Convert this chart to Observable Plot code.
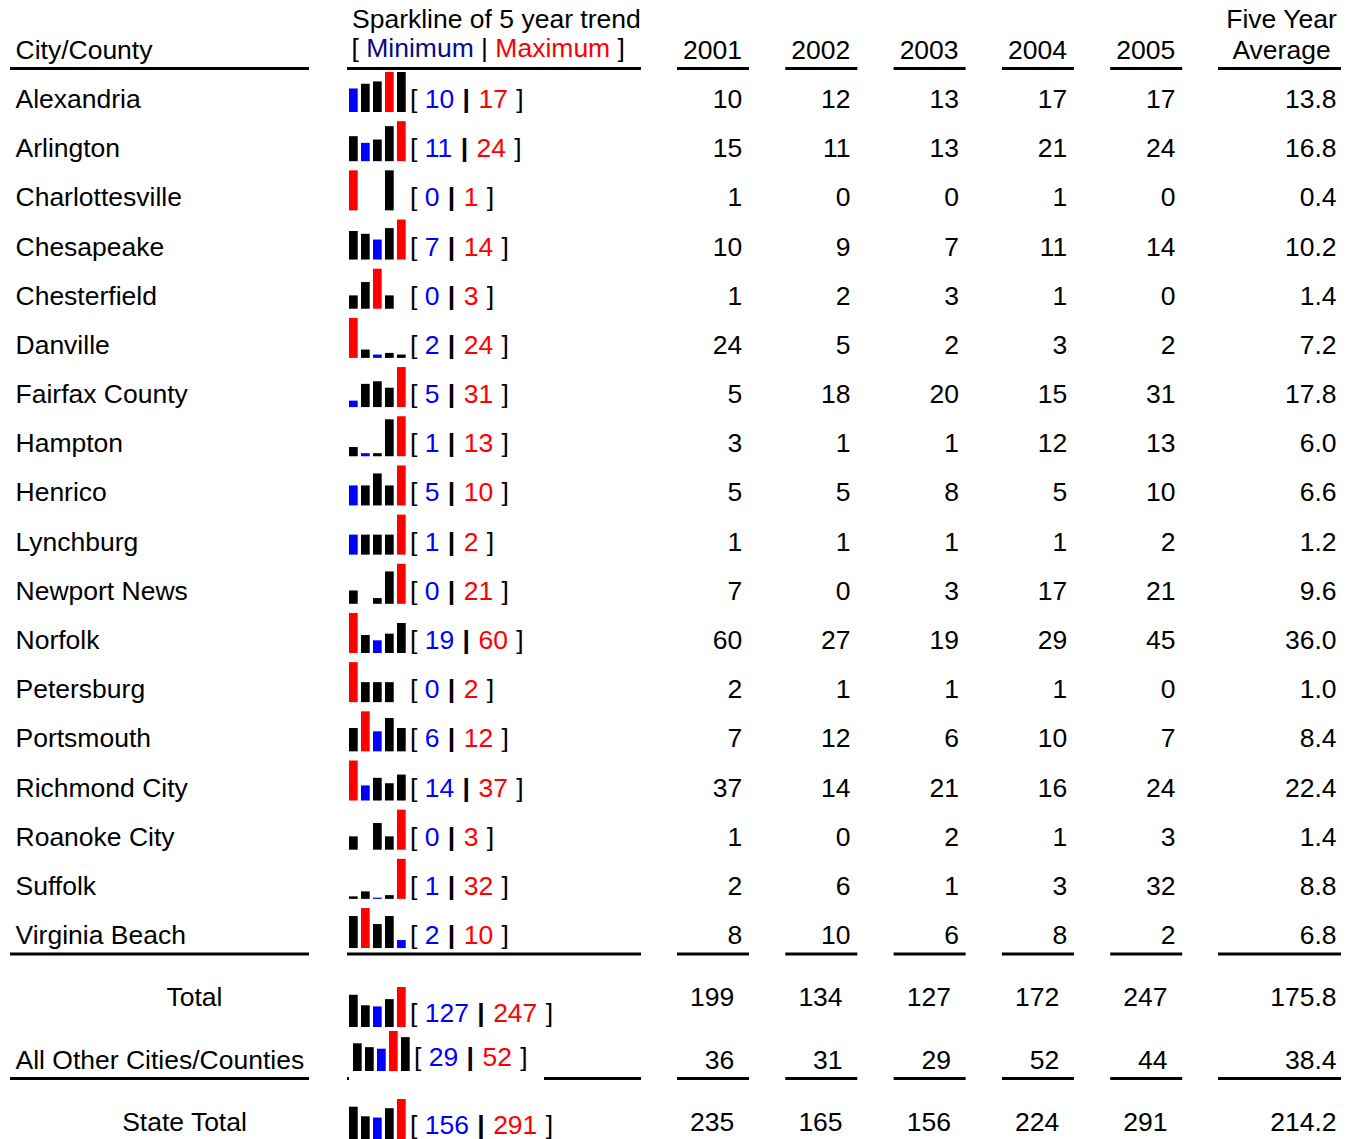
<!DOCTYPE html>
<html><head><meta charset="utf-8">
<script src="https://cdn.jsdelivr.net/npm/d3@7"></script>
<script src="https://cdn.jsdelivr.net/npm/@observablehq/plot@0.6"></script>
<style>body{margin:0;background:#fff} svg{display:block} text{white-space:pre}</style>
</head><body><div id="chart"></div>
<script>
// ---------- DATA ----------
const names = ["Alexandria","Arlington","Charlottesville","Chesapeake","Chesterfield","Danville","Fairfax County","Hampton","Henrico","Lynchburg","Newport News","Norfolk","Petersburg","Portsmouth","Richmond City","Roanoke City","Suffolk","Virginia Beach"];
const years = ["2001","2002","2003","2004","2005"];
const v2001 = [10,15,1,10,1,24,5,3,5,1,7,60,2,7,37,1,2,8];
const v2002 = [12,11,0,9,2,5,18,1,5,1,0,27,1,12,14,0,6,10];
const v2003 = [13,13,0,7,3,2,20,1,8,1,3,19,1,6,21,2,1,6];
const v2004 = [17,21,1,11,1,3,15,12,5,1,17,29,1,10,16,1,3,8];
const v2005 = [17,24,0,14,0,2,31,13,10,2,21,45,0,7,24,3,32,2];
const fiveYearAvg = [13.8,16.8,0.4,10.2,1.4,7.2,17.8,6.0,6.6,1.2,9.6,36.0,1.0,8.4,22.4,1.4,8.8,6.8];
const totalNames = ["Total","All Other Cities/Counties","State Total"];
const totalValues = [[199,134,127,172,247],[36,31,29,52,44],[235,165,156,224,291]];
const totalAvg = [175.8,38.4,214.2];
const headerTexts = {name:"City/County", spark1:"Sparkline of 5 year trend", spark2:"[ Minimum | Maximum ]", avg1:"Five Year", avg2:"Average"};

// ---------- LAYOUT ----------
const W = 1354, H = 1139, FS = 26.5;
const FONT = "Liberation Sans, Arial, Helvetica, sans-serif";
const ROW0 = 99, STEP = 49.18;
const COL_STEP = 108.3;
const valRight = i => 741.8 + COL_STEP * i;
const yearCenter = i => 712 + COL_STEP * i;
const ulYear = i => [677 + COL_STEP * i, 749 + COL_STEP * i];
const AVG_RIGHT = 1336;
const BAR_X0 = 349, BAR_STEP = 12, BAR_W = 8.7, BAR_H = 40;
const SPARK_TEXT_X = 409.5;

const cityRows = names.map((n, i) => ({
  name: n,
  values: [v2001[i], v2002[i], v2003[i], v2004[i], v2005[i]],
  avg: fiveYearAvg[i],
  yc: ROW0 + i * STEP, sparkYc: ROW0 + i * STEP, barBase: ROW0 + i * STEP + 13,
  valShift: 0, barShift: 0, nameX: 15, anchor: "start"
}));
const totLayout = [
  {yc: 997, sparkYc: 1013, barBase: 1027, barShift: 0, nameX: 194, anchor: "middle"},
  {yc: 1060, sparkYc: 1057, barBase: 1071, barShift: 4, nameX: 15, anchor: "start"},
  {yc: 1122, sparkYc: 1125, barBase: 1139, barShift: 0, nameX: 184, anchor: "middle"}
];
const totRows = totalNames.map((n, k) => ({
  name: n, values: totalValues[k], avg: totalAvg[k], valShift: -8, ...totLayout[k]
}));
const allRows = [...cityRows, ...totRows];

// cells
const cells = allRows.flatMap(r => r.values.map((v, i) => ({v, x: valRight(i) + r.valShift, y: r.yc})));
// bars
const bars = allRows.flatMap(r => {
  const mx = d3.max(r.values), mn = d3.min(r.values);
  const imx = r.values.indexOf(mx), imn = r.values.indexOf(mn);
  return r.values.map((v, j) => ({
    x1: BAR_X0 + j * BAR_STEP + r.barShift,
    x2: BAR_X0 + j * BAR_STEP + r.barShift + BAR_W,
    y1: r.barBase, y2: r.barBase - (mx > 0 ? v / mx * BAR_H : 0),
    fill: j === imx ? "red" : j === imn ? "blue" : "black"
  }));
});
const sparkLabels = allRows.map(r => ({
  text: `[ ${d3.min(r.values)} | ${d3.max(r.values)} ]`,
  x: SPARK_TEXT_X + r.barShift, y: r.sparkYc
}));

// underline segments
const segsFor = (y, sparkSegs) => [
  {y, x1: 10, x2: 309}, ...sparkSegs.map(s => ({y, x1: s[0], x2: s[1]})),
  ...years.map((_, i) => ({y, x1: ulYear(i)[0], x2: ulYear(i)[1]})),
  {y, x1: 1218, x2: 1341}
];
const rules = [
  ...segsFor(68, [[347, 641]]),
  ...segsFor(953.5, [[347, 641]]),
  ...segsFor(1078, [[347, 349], [544, 641]])
];

const textOpts = {fontSize: FS, fill: "black"};

const svg = Plot.plot({
  width: W, height: H, margin: 0,
  x: {type: "linear", domain: [0, W], range: [0, W], axis: null},
  y: {type: "linear", domain: [0, H], range: [0, H], axis: null},
  style: {fontFamily: FONT, background: "white", overflow: "visible"},
  marks: [
    // header
    Plot.text([headerTexts.name], {x: () => 15, y: () => 50, text: d => d, textAnchor: "start", ...textOpts}),
    Plot.text([headerTexts.spark1], {x: () => 351.5, y: () => 19, text: d => d, textAnchor: "start", ...textOpts}),
    Plot.text([headerTexts.spark2], {x: () => 351, y: () => 48, text: d => d, textAnchor: "start", ...textOpts}),
    Plot.text(years, {x: (d, i) => yearCenter(i), y: () => 50, text: d => d, textAnchor: "middle", ...textOpts}),
    Plot.text([headerTexts.avg1], {x: () => 1281, y: () => 19, text: d => d, textAnchor: "middle", ...textOpts}),
    Plot.text([headerTexts.avg2], {x: () => 1281, y: () => 50, text: d => d, textAnchor: "middle", ...textOpts}),
    // rules
    Plot.ruleY(rules, {y: "y", x1: "x1", x2: "x2", stroke: "black", strokeWidth: 3}),
    // names
    Plot.text(allRows.filter(r => r.anchor === "start"), {x: "nameX", y: "yc", text: "name", textAnchor: "start", ...textOpts}),
    Plot.text(allRows.filter(r => r.anchor === "middle"), {x: "nameX", y: "yc", text: "name", textAnchor: "middle", ...textOpts}),
    // values
    Plot.text(cells, {x: "x", y: "y", text: d => String(d.v), textAnchor: "end", ...textOpts}),
    Plot.text(allRows, {x: () => AVG_RIGHT, y: "yc", text: d => d.avg.toFixed(1), textAnchor: "end", ...textOpts}),
    // sparkline bars
    Plot.rect(bars.filter(b => b.fill === "black"), {x1: "x1", x2: "x2", y1: "y1", y2: "y2", fill: "black"}),
    Plot.rect(bars.filter(b => b.fill === "blue"), {x1: "x1", x2: "x2", y1: "y1", y2: "y2", fill: "#0000ff"}),
    Plot.rect(bars.filter(b => b.fill === "red"), {x1: "x1", x2: "x2", y1: "y1", y2: "y2", fill: "#ff0000"}),
    // spark labels
    Plot.text(sparkLabels, {x: "x", y: "y", text: "text", textAnchor: "start", ...textOpts})
  ]
});
document.getElementById("chart").appendChild(svg);

// colour the bracket labels
d3.select(svg).selectAll("text").each(function () {
  const t = this.textContent;
  const m = t.match(/^\[ (\S+) \| (\S+) \]$/);
  if (!m) return;
  const header = m[1] === "Minimum";
  const sel = d3.select(this);
  sel.text(null);
  const parts = [
    ["[ ", "black", 0, null], [m[1], header ? "#0a0a8c" : "#0000ff", 0, null], [" ", "black", 0, null],
    ["|", "black", header ? 0 : 1, header ? null : "bold"], [" ", "black", 0, null],
    [m[2], "#ff0000", header ? 0 : 1, null], [" ]", "black", header ? 0 : 1, null]
  ];
  for (const [s, c, dx, fw] of parts) {
    const ts = sel.append("tspan").attr("fill", c).text(s);
    if (dx) ts.attr("dx", dx);
    if (fw) ts.attr("font-weight", fw);
  }
});
</script>
</body></html>
